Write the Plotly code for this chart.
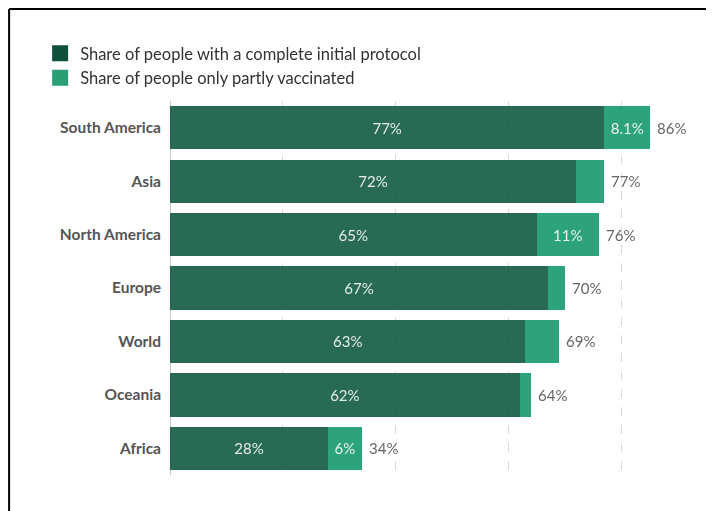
import plotly.graph_objects as go

categories = ["South America", "Asia", "North America", "Europe", "World", "Oceania", "Africa"]
complete = [77, 72, 65, 67, 63, 62, 28]
partial = [8.1, 5, 11, 3, 6, 2, 6]
complete_labels = ["77%", "72%", "65%", "67%", "63%", "62%", "28%"]
partial_labels = ["8.1%", "", "11%", "", "", "", "6%"]
total_labels = ["86%", "77%", "76%", "70%", "69%", "64%", "34%"]
series_names = ["Share of people with a complete initial protocol",
                "Share of people only partly vaccinated"]

dark_bar = "#105a42"
light_bar = "#219f74"
dark_legend = "#0f5038"
light_legend = "#2a9f74"
font_family = "Lato, 'Open Sans', sans-serif"

totals = [c + p for c, p in zip(complete, partial)]

fig = go.Figure()
fig.add_trace(go.Bar(
    y=categories, x=complete, orientation="h", name=series_names[0],
    marker=dict(color=dark_bar, line=dict(width=0)), opacity=0.9,
    text=complete_labels, textposition="inside", insidetextanchor="middle",
    textangle=0, constraintext="none",
    textfont=dict(color="#dfebe5", size=15, family=font_family),
    showlegend=False, hoverinfo="skip"))
fig.add_trace(go.Bar(
    y=categories, x=partial, orientation="h", name=series_names[1],
    marker=dict(color=light_bar, line=dict(width=0)), opacity=0.95,
    text=partial_labels, textposition="inside", insidetextanchor="middle",
    textangle=0, constraintext="none",
    textfont=dict(color="#e6f3ec", size=15, family=font_family),
    showlegend=False, hoverinfo="skip"))
# legend entries
for name, col in zip(series_names, [dark_legend, light_legend]):
    fig.add_trace(go.Scatter(x=[None], y=[None], mode="markers", name=name,
                             marker=dict(color=col, symbol="square", size=16,
                                         line=dict(width=0)),
                             showlegend=True, hoverinfo="skip"))

annotations = []
for cat, tot, lab in zip(categories, totals, total_labels):
    annotations.append(dict(x=tot, y=cat, xref="x", yref="y", text=lab,
                            showarrow=False, xanchor="left", yanchor="middle",
                            xshift=5,
                            font=dict(color="#666666", size=15, family=font_family)))

fig.update_layout(
    width=714, height=511,
    barmode="stack", bargap=0.19,
    uniformtext=dict(mode=False),
    paper_bgcolor="white", plot_bgcolor="white",
    margin=dict(l=162, r=33, t=93, b=44, autoexpand=False),
    font=dict(family=font_family, color="#333333"),
    legend=dict(xref="container", yref="container", x=0.045, y=0.945,
                xanchor="left", yanchor="top", traceorder="normal",
                font=dict(size=16.5, color="#333333", family=font_family),
                bgcolor="rgba(0,0,0,0)", tracegroupgap=0, itemwidth=30),
    xaxis=dict(range=[0, 92], showticklabels=False, ticks="",
               showgrid=True, gridcolor="#d9d9d9", griddash="dash", gridwidth=1,
               dtick=20, tick0=0, zeroline=True, zerolinecolor="#cccccc",
               zerolinewidth=1, showline=False, fixedrange=True, automargin=False),
    yaxis=dict(categoryorder="array", categoryarray=categories[::-1],
               showgrid=False, ticks="", ticklabelstandoff=8, automargin=False,
               tickfont=dict(size=15.5, color="#555555", family="Lato, sans-serif", weight="bold"),
               fixedrange=True),
    annotations=annotations,
    shapes=[
        dict(type="line", xref="paper", yref="paper", x0=-0.31, x1=1.2,
             y0=1.246, y1=1.246, line=dict(color="black", width=2)),
        dict(type="line", xref="paper", yref="paper", x0=-0.31, x1=-0.31,
             y0=1.246, y1=-0.2, line=dict(color="black", width=2)),
    ],
)

fig.write_html("out.html")
